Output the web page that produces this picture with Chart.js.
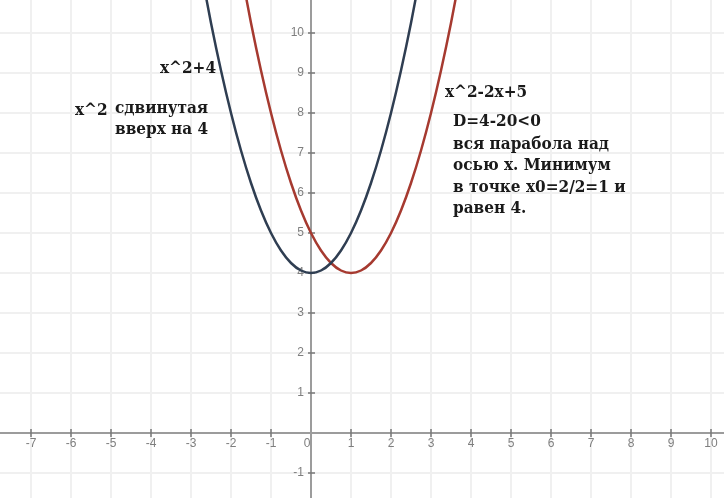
<!DOCTYPE html>
<html>
<head>
<meta charset="utf-8">
<script src="https://cdn.jsdelivr.net/npm/chart.js@4"></script>
<style>
  body { margin: 0; background: #fff; }
  #graph { display: block; }
</style>
</head>
<body>
<canvas id="graph" width="724" height="498"></canvas>
<script>
// x^2+4 (синяя) и x^2-2x+5 (красная)
const blueX = [-2.75, -2.5, -2.25, -2, -1.75, -1.5, -1.25, -1, -0.75, -0.5, -0.25, 0, 0.25, 0.5, 0.75, 1, 1.25, 1.5, 1.75, 2, 2.25, 2.5, 2.75];
const blueY = [11.5625, 10.25, 9.0625, 8, 7.0625, 6.25, 5.5625, 5, 4.5625, 4.25, 4.0625, 4, 4.0625, 4.25, 4.5625, 5, 5.5625, 6.25, 7.0625, 8, 9.0625, 10.25, 11.5625];
const redX = [-1.75, -1.5, -1.25, -1, -0.75, -0.5, -0.25, 0, 0.25, 0.5, 0.75, 1, 1.25, 1.5, 1.75, 2, 2.25, 2.5, 2.75, 3, 3.25, 3.5, 3.75];
const redY = [11.5625, 10.25, 9.0625, 8, 7.0625, 6.25, 5.5625, 5, 4.5625, 4.25, 4.0625, 4, 4.0625, 4.25, 4.5625, 5, 5.5625, 6.25, 7.0625, 8, 9.0625, 10.25, 11.5625];

const xTicks = [-7, -6, -5, -4, -3, -2, -1, 0, 1, 2, 3, 4, 5, 6, 7, 8, 9, 10];
const yTicks = [-1, 1, 2, 3, 4, 5, 6, 7, 8, 9, 10];

const notes = [
    { text: 'x^2+4', x: 160, y: 73 },
    { text: 'x^2', x: 75, y: 115 },
    { text: 'сдвинутая', x: 115, y: 113 },
    { text: 'вверх на 4', x: 115, y: 134 },
    { text: 'x^2-2x+5', x: 445, y: 97 },
    { text: 'D=4-20<0', x: 453, y: 126 },
    { text: 'вся парабола над', x: 453, y: 149 },
    { text: 'осью х. Минимум', x: 453, y: 170 },
    { text: 'в точке х0=2/2=1 и', x: 453, y: 192 },
    { text: 'равен 4.', x: 453, y: 213 }
];

function toPoints(xs, ys) {
    return xs.map((x, i) => ({ x: x, y: ys[i] }));
}

// сетка, оси и подписи рисуем сами через шкалы графика
const axesPlugin = {
    id: 'axesPlugin',
    beforeDatasetsDraw(chart) {
        const ctx = chart.ctx;
        const xs = chart.scales.x, ys = chart.scales.y;
        const area = chart.chartArea;
        ctx.save();
        ctx.strokeStyle = '#f0f0f0';
        ctx.lineWidth = 2;
        for (let v = -8; v <= 11; v++) {
            const px = Math.round(xs.getPixelForValue(v));
            ctx.beginPath(); ctx.moveTo(px, area.top); ctx.lineTo(px, area.bottom); ctx.stroke();
        }
        for (let v = -2; v <= 11; v++) {
            const py = Math.round(ys.getPixelForValue(v));
            ctx.beginPath(); ctx.moveTo(area.left, py); ctx.lineTo(area.right, py); ctx.stroke();
        }
        const ox = Math.round(xs.getPixelForValue(0));
        const oy = Math.round(ys.getPixelForValue(0));
        ctx.strokeStyle = '#9c9c9c';
        ctx.lineWidth = 2;
        ctx.beginPath(); ctx.moveTo(area.left, oy); ctx.lineTo(area.right, oy); ctx.stroke();
        ctx.beginPath(); ctx.moveTo(ox, area.top); ctx.lineTo(ox, area.bottom); ctx.stroke();

        ctx.fillStyle = '#7e7e7e';
        ctx.font = '12px "Liberation Sans", Arial, sans-serif';
        ctx.strokeStyle = '#777';
        ctx.lineWidth = 1.5;
        ctx.textBaseline = 'middle';
        xTicks.forEach(v => {
            const px = Math.round(xs.getPixelForValue(v));
            if (v !== 0) {
                ctx.beginPath(); ctx.moveTo(px, oy - 4); ctx.lineTo(px, oy + 4); ctx.stroke();
                ctx.textAlign = 'center';
                ctx.fillText(String(v), px, oy + 11);
            } else {
                ctx.textAlign = 'center';
                ctx.fillText('0', px - 4, oy + 11);
            }
        });
        yTicks.forEach(v => {
            const py = Math.round(ys.getPixelForValue(v));
            ctx.beginPath(); ctx.moveTo(ox - 3, py); ctx.lineTo(ox + 4, py); ctx.stroke();
            ctx.textAlign = 'right';
            ctx.fillText(String(v), ox - 7, py);
        });
        ctx.restore();
    },
    afterDraw(chart) {
        const ctx = chart.ctx;
        ctx.save();
        ctx.fillStyle = '#1a1a1a';
        ctx.font = 'bold 17px "DejaVu Serif Condensed", "DejaVu Serif", serif';
        ctx.textAlign = 'left';
        ctx.textBaseline = 'alphabetic';
        notes.forEach(n => ctx.fillText(n.text, n.x, n.y));
        ctx.restore();
    }
};

const data = {
    datasets: [
        {
            label: 'x^2+4',
            data: toPoints(blueX, blueY),
            borderColor: '#2f3e52',
            borderWidth: 2.5,
            pointRadius: 0,
            cubicInterpolationMode: 'monotone',
            fill: false
        },
        {
            label: 'x^2-2x+5',
            data: toPoints(redX, redY),
            borderColor: '#a63a30',
            borderWidth: 2.5,
            pointRadius: 0,
            cubicInterpolationMode: 'monotone',
            fill: false
        }
    ]
};

const config = {
    type: 'scatter',
    data: data,
    options: {
        responsive: false,
        animation: false,
        devicePixelRatio: 1,
        showLine: true,
        layout: { padding: 0 },
        plugins: {
            legend: { display: false },
            tooltip: { enabled: false }
        },
        scales: {
            x: { type: 'linear', min: -7.775, max: 10.325, display: false },
            y: { type: 'linear', min: -1.625, max: 10.825, display: false }
        }
    },
    plugins: [axesPlugin]
};

new Chart(document.getElementById('graph'), config);
</script>
</body>
</html>
